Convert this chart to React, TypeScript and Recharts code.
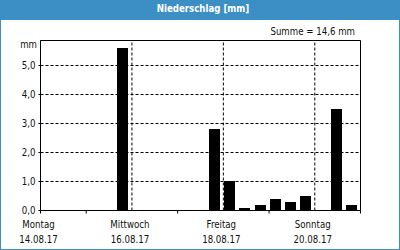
import { BarChart, Bar, XAxis, YAxis, CartesianGrid, ReferenceLine } from 'recharts';

// Niederschlag je 8-Stunden-Intervall (3 pro Tag), Mo 14.08.17 – So 20.08.17
const dayNames = ['Montag', 'Dienstag', 'Mittwoch', 'Donnerstag', 'Freitag', 'Samstag', 'Sonntag'];
const dayDates = ['14.08.17', '15.08.17', '16.08.17', '17.08.17', '18.08.17', '19.08.17', '20.08.17'];
const rain = [
  0, 0, 0, // Mo
  0, 0, 5.6, // Di
  0, 0, 0, // Mi
  0, 0, 2.8, // Do
  1.0, 0.1, 0.2, // Fr
  0.4, 0.3, 0.5, // Sa
  0, 3.5, 0.2, // So
];
const binsPerDay = 3;
const yTicks = [0, 1, 2, 3, 4, 5];
const xTicks = [0, 1, 2, 3, 4, 5, 6, 7];
const labelDays = [0, 2, 4, 6];
const gridDays = [2, 4, 6];
const total = rain.reduce((a, b) => a + b, 0);

const data = rain.map((v, i) => ({ t: (i + 0.5) / binsPerDay, v }));

const FONT = "'DejaVu Sans Condensed', 'DejaVu Sans', sans-serif";
const BLUE = '#3c8fc4';
const TEXT = '#111';
const yMax = 170 / 29;

const fmt = (v: number) => v.toFixed(1).replace('.', ',');

const DayTick = (props: any) => {
  const { x, y, payload } = props;
  const d = payload.value;
  const showLabel = labelDays.includes(d);
  return (
    <g>
      {!gridDays.includes(d) && <line x1={x} x2={x} y1={y} y2={y + 3} stroke="#000" />}
      {showLabel && (
        <>
          <text x={x - 2} y={y + 17.2} textAnchor="middle" fontSize={9.6} fill={TEXT} fontFamily={FONT} style={{ fontStretch: 'condensed' }}>
            {dayNames[d]}
          </text>
          <text x={x - 2} y={y + 32.2} textAnchor="middle" fontSize={9.6} fill={TEXT} fontFamily={FONT} style={{ fontStretch: 'condensed' }}>
            {dayDates[d]}
          </text>
        </>
      )}
    </g>
  );
};

const RainBar = (props: any) => {
  const { x, y, height } = props;
  if (!height || height <= 0) return null;
  const top = Math.round(y);
  const bottom = Math.round(y + height);
  return <rect x={Math.round(x - 1.3)} y={top} width={11} height={bottom - top} fill="#000" />;
};

export default function App() {
  return (
    <div style={{ position: 'absolute', left: 0, top: 0, width: 400, height: 250, background: '#fff' }}>
      <style>{'body{margin:0}'}</style>
      <BarChart
        width={400}
        height={250}
        data={data}
        margin={{ top: 40.5, right: 39.5, bottom: 0, left: 0 }}
        style={{ position: 'absolute', left: 0, top: 0 }}
      >
        <CartesianGrid vertical={false} stroke="#000" strokeDasharray="3 2" />
        {gridDays.map((d) => (
          <ReferenceLine key={d} x={d} stroke="#000" strokeDasharray="3 2" />
        ))}
        <ReferenceLine y={yMax} stroke="#000" />
        <ReferenceLine x={7} stroke="#000" />
        <XAxis
          dataKey="t"
          type="number"
          domain={[0, 7]}
          ticks={xTicks}
          interval={0}
          allowDataOverflow
          tickSize={0}
          tickMargin={0}
          tickLine={false}
          tick={<DayTick />}
          axisLine={{ stroke: '#000' }}
          height={39.5}
        />
        <YAxis
          type="number"
          domain={[0, yMax]}
          ticks={yTicks}
          allowDataOverflow
          width={40.5}
          tickSize={2}
          tickMargin={3}
          tickFormatter={fmt}
          tick={{ fontSize: 9.6, fill: TEXT, fontFamily: FONT, style: { fontStretch: 'condensed' } }}
          tickLine={{ stroke: '#000' }}
          axisLine={{ stroke: '#000' }}
        />
        <Bar dataKey="v" barSize={11} fill="#000" shape={<RainBar />} isAnimationActive={false} />
      </BarChart>
      <svg
        width={400}
        height={250}
        style={{ position: 'absolute', left: 0, top: 0, pointerEvents: 'none' }}
        fontFamily={FONT}
      >
        <rect x={0} y={0} width={400} height={20} fill={BLUE} />
        <rect x={0.5} y={0.5} width={399} height={249} fill="none" stroke={BLUE} />
        <text x={203} y={12.3} textAnchor="middle" fill="#fff" fontWeight="bold" fontSize={9.6} style={{ fontStretch: 'condensed' }}>
          Niederschlag [mm]
        </text>
        <text x={355} y={34.7} textAnchor="end" fill={TEXT} fontSize={9.6} style={{ fontStretch: 'condensed' }}>
          {`Summe = ${fmt(total)} mm`}
        </text>
        <text x={37} y={47.7} textAnchor="end" fill={TEXT} fontSize={9.6} style={{ fontStretch: 'condensed' }}>
          mm
        </text>
      </svg>
    </div>
  );
}
